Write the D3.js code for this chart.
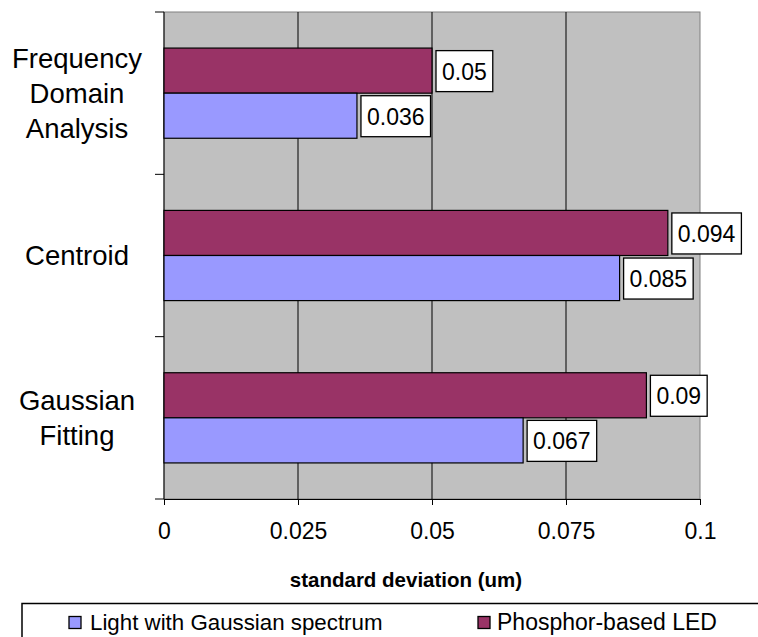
<!DOCTYPE html>
<html><head><meta charset="utf-8">
<script src="https://cdn.jsdelivr.net/npm/d3@7"></script>
<style>body{margin:0;background:#fff}svg{display:block;font-family:Arial,"Liberation Sans",sans-serif}</style>
</head><body>
<script>
const categories = ["Frequency Domain Analysis", "Centroid", "Gaussian Fitting"];
const categoryLines = [["Frequency", "Domain", "Analysis"], ["Centroid"], ["Gaussian", "Fitting"]];
const seriesNames = ["Phosphor-based LED", "Light with Gaussian spectrum"];
const phosphorLED = [0.05, 0.094, 0.09];
const gaussianLight = [0.036, 0.085, 0.067];
const xTicks = [0, 0.025, 0.05, 0.075, 0.1];
const colors = {"Phosphor-based LED": "#993366", "Light with Gaussian spectrum": "#9999FF"};

(function(){
const W = 758, H = 637;
const svg = d3.select("body").append("svg").attr("width", W).attr("height", H);
const pLeft = 164, pRight = 700, pTop = 12, pBottom = 499;

const x = d3.scaleLinear().domain([0, 0.1]).range([pLeft, pRight]);
const y = d3.scaleBand().domain(categories).range([pTop, pBottom]);
const inner = d3.scaleBand().domain(seriesNames).range([0, y.bandwidth()]).paddingOuter(0.8).paddingInner(0);

// plot area
svg.append("rect").attr("x", pLeft).attr("y", pTop).attr("width", pRight - pLeft).attr("height", pBottom - pTop)
  .attr("fill", "#C0C0C0").attr("stroke", "#808080").attr("stroke-width", 1);

// gridlines
svg.append("g").selectAll("line").data(xTicks.slice(1, -1)).join("line")
  .attr("x1", d => x(d)).attr("x2", d => x(d)).attr("y1", pTop).attr("y2", pBottom)
  .attr("stroke", "#000").attr("stroke-width", 1);

// x axis
const xAxis = svg.append("g").attr("transform", `translate(0,${pBottom})`)
  .call(d3.axisBottom(x).tickValues(xTicks).tickFormat(d => String(d)).tickSize(6).tickPadding(18));
xAxis.select(".domain").attr("stroke", "#000");
xAxis.selectAll("line").attr("stroke", "#000");
xAxis.selectAll("text").attr("font-size", 23).attr("fill", "#000").attr("font-family", "Arial, 'Liberation Sans', sans-serif");

// y axis line and ticks at band boundaries
svg.append("line").attr("x1", pLeft).attr("x2", pLeft).attr("y1", pTop).attr("y2", pBottom).attr("stroke", "#000");
const bounds = categories.map(c => y(c)).concat([pBottom]);
svg.append("g").selectAll("line").data(bounds).join("line")
  .attr("x1", pLeft - 9).attr("x2", pLeft).attr("y1", d => d).attr("y2", d => d).attr("stroke", "#000");

// category labels
categories.forEach((c, i) => {
  const lines = categoryLines[i];
  const cy = y(c) + y.bandwidth() / 2;
  const lh = 35;
  lines.forEach((t, j) => {
    svg.append("text").attr("x", 77).attr("y", cy + (j - (lines.length - 1) / 2) * lh)
      .attr("text-anchor", "middle").attr("dominant-baseline", "central")
      .attr("font-size", 27.5).attr("fill", "#000").text(t);
  });
});

// bars
const seriesData = {"Phosphor-based LED": phosphorLED, "Light with Gaussian spectrum": gaussianLight};
seriesNames.forEach(s => {
  const vals = seriesData[s];
  const g = svg.append("g");
  g.selectAll("rect").data(categories).join("rect")
    .attr("x", x(0)).attr("y", (c) => y(c) + inner(s))
    .attr("width", (c, i) => x(vals[i]) - x(0)).attr("height", inner.bandwidth())
    .attr("fill", colors[s]).attr("stroke", "#000").attr("stroke-width", 1.2);
});
seriesNames.forEach(s => {
  const vals = seriesData[s];
  categories.forEach((c, i) => {
    const lx = x(vals[i]) + 4;
    const cy = y(c) + inner(s) + inner.bandwidth() / 2;
    const txt = String(vals[i]);
    const t = svg.append("text").attr("x", lx + 6).attr("y", cy + 1).attr("dominant-baseline", "central")
      .attr("font-size", 23).attr("fill", "#000").text(txt);
    const bw = t.node().getComputedTextLength() + 12;
    svg.insert("rect", () => t.node()).attr("x", lx).attr("y", cy - 20).attr("width", bw).attr("height", 41)
      .attr("fill", "#fff").attr("stroke", "#000").attr("stroke-width", 1.3);
  });
});

// axis title
svg.append("text").attr("x", 406).attr("y", 579).attr("text-anchor", "middle").attr("dominant-baseline", "central")
  .attr("font-size", 20.5).attr("font-weight", "bold").attr("fill", "#000").text("standard deviation (um)");

// legend
svg.append("rect").attr("x", 22).attr("y", 603.5).attr("width", 760).attr("height", 50)
  .attr("fill", "#fff").attr("stroke", "#000").attr("stroke-width", 1.5);
const legendItems = [
  {name: "Light with Gaussian spectrum", x: 69, tx: 90, fs: 22.3},
  {name: "Phosphor-based LED", x: 478, tx: 497, fs: 23}
];
legendItems.forEach(it => {
  svg.append("rect").attr("x", it.x).attr("y", 616.5).attr("width", 12).attr("height", 12)
    .attr("fill", colors[it.name]).attr("stroke", "#000").attr("stroke-width", 1.3);
  svg.append("text").attr("x", it.tx).attr("y", 622).attr("dominant-baseline", "central")
    .attr("font-size", it.fs).attr("fill", "#000").text(it.name);
});
})();
</script>
</body></html>
